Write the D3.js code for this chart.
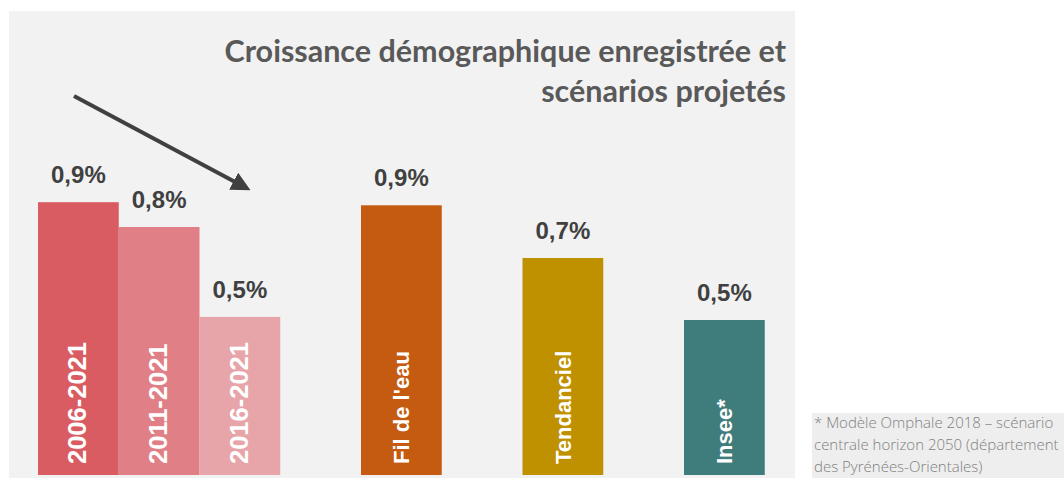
<!DOCTYPE html>
<html>
<head>
<meta charset="utf-8">
<script src="https://cdn.jsdelivr.net/npm/d3@7"></script>
<style>
  body { margin: 0; background: #fff; }
  svg { display: block; }
</style>
</head>
<body>
<svg id="chart"></svg>
<script>
"use strict";
var width = 1064;
var height = 478;

// data
var categories = ['2006-2021', '2011-2021', '2016-2021', "Fil de l'eau", 'Tendanciel', 'Insee*'];
var values = [0.88, 0.80, 0.51, 0.87, 0.70, 0.50];
var valueLabels = ['0,9%', '0,8%', '0,5%', '0,9%', '0,7%', '0,5%'];
var colors = ['#d95c63', '#e08086', '#e7a5a9', '#c55a11', '#bf9000', '#3f7c7c'];
// slot of each bar on the x band scale (gaps between scenarios)
var slots = [0, 1, 2, 4, 6, 8];
var titleLines = ['Croissance démographique enregistrée et', 'scénarios projetés'];
var noteLines = ['* Modèle Omphale 2018 – scénario', 'centrale horizon 2050 (département', 'des Pyrénées-Orientales)'];

var svg = d3.select('#chart')
    .attr('width', width)
    .attr('height', height);

// grey panel
svg.append('rect')
    .attr('x', 9).attr('y', 11)
    .attr('width', 786).attr('height', height - 11)
    .attr('fill', '#f2f2f2');

var x = d3.scaleBand()
    .domain(d3.range(9))
    .range([38, 764.75])
    .paddingInner(0)
    .paddingOuter(0);

var y = d3.scaleLinear()
    .domain([0, 1])
    .range([475, 165]);

var bars = categories.map(function (c, i) {
    return { name: c, value: values[i], label: valueLabels[i], color: colors[i], slot: slots[i] };
});

// bars
svg.selectAll('rect.bar')
    .data(bars)
    .enter()
    .append('rect')
    .attr('class', 'bar')
    .attr('x', function (d) { return x(d.slot); })
    .attr('width', x.bandwidth())
    .attr('y', function (d) { return y(d.value); })
    .attr('height', function (d) { return y(0) - y(d.value); })
    .attr('fill', function (d) { return d.color; });

// value labels
svg.selectAll('text.value')
    .data(bars)
    .enter()
    .append('text')
    .attr('class', 'value')
    .attr('x', function (d) { return x(d.slot) + x.bandwidth() / 2; })
    .attr('y', function (d) { return y(d.value) - 19; })
    .attr('text-anchor', 'middle')
    .style('font', 'bold 24px "Liberation Sans", Arial, sans-serif')
    .attr('fill', '#404040')
    .text(function (d) { return d.label; });

// category names inside the bars, rotated
svg.selectAll('text.cat')
    .data(bars)
    .enter()
    .append('text')
    .attr('class', 'cat')
    .attr('transform', function (d) {
        var cx = x(d.slot) + x.bandwidth() / 2 + 8;
        return 'translate(' + cx + ',464) rotate(-90)';
    })
    .style('font', function (d, i) {
        return 'bold ' + (i < 3 ? 25.5 : 22) + 'px "Liberation Sans", Arial, sans-serif';
    })
    .attr('fill', '#ffffff')
    .text(function (d) { return d.name; });

// title
svg.append('text')
    .attr('text-anchor', 'end')
    .style('font', 'bold 30.5px Lato, "Open Sans", sans-serif')
    .attr('fill', '#595959')
    .selectAll('tspan')
    .data(titleLines)
    .enter()
    .append('tspan')
    .attr('x', 786)
    .attr('y', function (d, i) { return 62 + i * 40; })
    .text(function (d) { return d; });

// trend arrow
svg.append('defs').append('marker')
    .attr('id', 'head')
    .attr('viewBox', '0 0 10 10')
    .attr('refX', 2).attr('refY', 5)
    .attr('markerWidth', 4.8).attr('markerHeight', 4.8)
    .attr('orient', 'auto')
    .append('path')
    .attr('d', 'M0,0L10,5L0,10Z')
    .attr('fill', '#404040');

svg.append('line')
    .attr('x1', 74).attr('y1', 96)
    .attr('x2', 237).attr('y2', 183)
    .attr('stroke', '#404040')
    .attr('stroke-width', 4)
    .attr('marker-end', 'url(#head)');

// footnote box
svg.append('rect')
    .attr('x', 812).attr('y', 413)
    .attr('width', width - 812).attr('height', height - 413)
    .attr('fill', '#eeeeee');

svg.append('text')
    .style('font', '300 15px "Open Sans", sans-serif')
    .attr('fill', '#7f7f7f')
    .selectAll('tspan')
    .data(noteLines)
    .enter()
    .append('tspan')
    .attr('x', 814)
    .attr('y', function (d, i) { return 428 + i * 22; })
    .text(function (d) { return d; });
</script>
</body>
</html>
